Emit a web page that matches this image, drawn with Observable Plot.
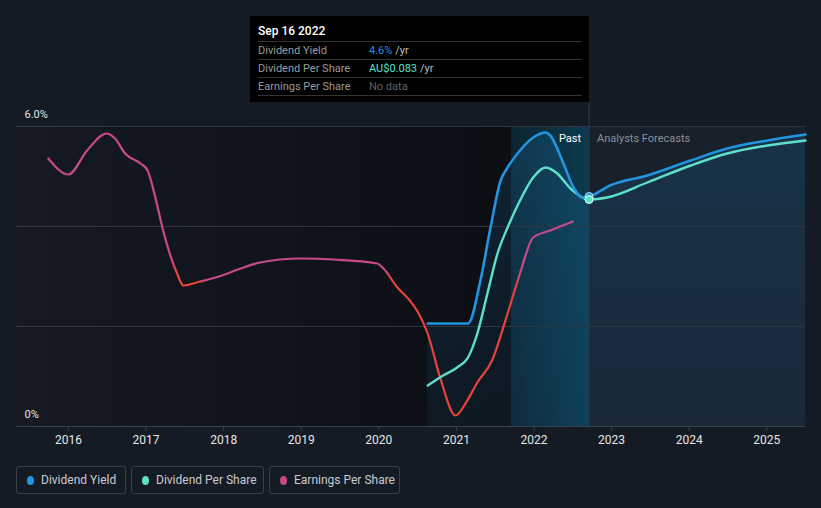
<!DOCTYPE html>
<html>
<head>
<meta charset="utf-8">
<script src="https://cdn.jsdelivr.net/npm/d3@7"></script>
<script src="https://cdn.jsdelivr.net/npm/@observablehq/plot@0.6"></script>
<style>
  html, body { margin: 0; padding: 0; background: #151b24; }
  body { font-family: Roboto, "Noto Sans", sans-serif; }
  #wrap { position: relative; width: 821px; height: 508px; background: #151b24; overflow: hidden; }
  #chart { position: absolute; left: 0; top: 0; }
  #tip { position: absolute; left: 250px; top: 16px; width: 339px; height: 86px; background: #000; box-sizing: border-box; padding: 0 7px 0 8px; }
  #tip .date { height: 25px; line-height: 31px; color: #fff; font-size: 12px; font-weight: 500; border-bottom: 1px solid #333; }
  #tip .row { height: 17px; line-height: 17px; font-size: 11px; border-bottom: 1px solid #333; display: flex; }
  #tip .lab { width: 111px; color: #9a9a9a; }
  #tip .u { color: #bdbdbd; margin-left: 3px; }
  #legend { position: absolute; left: 16px; top: 466px; display: flex; gap: 5px; }
  #legend .item { box-sizing: border-box; height: 28px; border: 1px solid #3a3f48; border-radius: 3px; display: flex; align-items: center; padding-left: 10px; font-size: 12px; color: #c9cbd0; }
  #legend .dot { width: 7px; height: 9px; border-radius: 50%; margin-right: 7px; }
</style>
</head>
<body>
<div id="wrap">
  <div id="chart"></div>
  <div id="tip"></div>
  <div id="legend"></div>
</div>
<script>
// ---------- data ----------
const tickYears = [2016, 2017, 2018, 2019, 2020, 2021, 2022, 2023, 2024, 2025];
const xDomain = [2015.33, 2025.5];
const yDomain = [0, 6];

const epsX = [2015.74, 2016.0, 2016.24, 2016.49, 2016.6, 2016.73, 2016.93, 2017.02, 2017.12, 2017.22, 2017.4, 2017.48, 2017.7, 2017.98, 2018.22, 2018.47, 2018.99, 2019.42, 2019.98, 2020.06, 2020.24, 2020.4, 2020.5, 2020.63, 2020.79, 2020.99, 2021.14, 2021.27, 2021.46, 2021.66, 2021.82, 2021.99, 2022.21, 2022.5];
const epsY = [5.36, 5.04, 5.52, 5.86, 5.76, 5.46, 5.26, 5.12, 4.58, 3.92, 3.06, 2.82, 2.9, 3.02, 3.16, 3.28, 3.36, 3.34, 3.26, 3.16, 2.78, 2.52, 2.3, 1.86, 0.98, 0.22, 0.52, 0.88, 1.32, 2.26, 3.06, 3.78, 3.92, 4.1];
const epsRedRanges = [[2017.36, 2017.72], [2020.12, 2021.8]];

const yieldX = [2020.63, 2021.15, 2021.31, 2021.44, 2021.57, 2021.66, 2021.82, 2021.99, 2022.15, 2022.21, 2022.38, 2022.51, 2022.62, 2022.71, 2022.98, 2023.46, 2024.02, 2024.49, 2025.01, 2025.5];
const yieldY = [2.06, 2.06, 2.92, 3.98, 4.92, 5.18, 5.52, 5.78, 5.88, 5.82, 5.26, 4.78, 4.58, 4.6, 4.82, 5.02, 5.32, 5.56, 5.72, 5.84];

const dpsX = [2020.63, 2020.83, 2021.01, 2021.15, 2021.27, 2021.4, 2021.53, 2021.66, 2021.82, 2021.99, 2022.15, 2022.3, 2022.47, 2022.71, 2022.94, 2023.46, 2024.02, 2024.49, 2025.01, 2025.5];
const dpsY = [0.82, 1.02, 1.18, 1.38, 1.86, 2.66, 3.46, 3.98, 4.52, 4.98, 5.18, 5.06, 4.76, 4.54, 4.58, 4.88, 5.22, 5.46, 5.62, 5.72];

const today = 2022.71;
const pastStart = 2021.71;
const gridValues = [2, 4, 6];
const yLabels = [{v: 6, t: "6.0%"}, {v: 0, t: "0%"}];

const seriesNames = ["Dividend Yield", "Dividend Per Share", "Earnings Per Share"];
const seriesColors = ["#2394df", "#5de1cb", "#c7498a"];
const epsRed = "#e8433a";

const tipDate = "Sep 16 2022";
const tipValues = [["4.6%", "/yr"], ["AU$0.083", "/yr"], ["No data", ""]];

// ---------- build ----------
const zip = (xs, ys) => xs.map((x, i) => ({x, y: ys[i]}));
const eps = zip(epsX, epsY);
const yld = zip(yieldX, yieldY);
const dps = zip(dpsX, dpsY);

const curve = "monotone-x";
const plot = Plot.plot({
  width: 821,
  height: 450,
  marginLeft: 16,
  marginRight: 16,
  marginTop: 126,
  marginBottom: 24,
  style: {background: "transparent", fontFamily: "Roboto, sans-serif", fontSize: "12px", color: "#e6e6e6", overflow: "visible"},
  x: {domain: xDomain},
  y: {domain: yDomain, axis: null},
  marks: [
    Plot.rect([{a: xDomain[0], b: pastStart}], {x1: "a", x2: "b", y1: () => 0, y2: () => 6, fill: "url(#leftShade)"}),
    Plot.rect([{a: today, b: xDomain[1]}], {x1: "a", x2: "b", y1: () => 0, y2: () => 6, fill: "#17202b"}),
    Plot.rect([{a: pastStart, b: today}], {x1: "a", x2: "b", y1: () => 0, y2: () => 6, fill: "url(#pastShade)"}),
    Plot.areaY(yld, {x: "x", y: "y", curve, fill: "url(#yieldFill)"}),
    Plot.ruleY(gridValues, {stroke: "#30363f", strokeWidth: 1}),
    Plot.ruleY([0], {stroke: "#3a404a"}),
    Plot.ruleX([today], {y1: () => 0, y2: () => 6.5, stroke: "#1d4456", strokeWidth: 1}),
    Plot.axisX({ticks: tickYears, tickFormat: d => String(d), tickSize: 5, tickPadding: 4, stroke: "#3a404a", fill: "#e6e6e6", label: null, fontSize: 12}),
    Plot.line(eps, {x: "x", y: "y", curve, stroke: "url(#epsStroke)", strokeWidth: 2.2}),
    Plot.line(dps, {x: "x", y: "y", curve, stroke: seriesColors[1], strokeWidth: 2.4}),
    Plot.line(yld, {x: "x", y: "y", curve, stroke: seriesColors[0], strokeWidth: 2.6}),
    Plot.dot(yld.filter(d => d.x === today), {x: "x", y: "y", r: 4, fill: seriesColors[0], stroke: "#bfe3f3", strokeWidth: 1}),
    Plot.dot(dps.filter(d => d.x === today), {x: "x", y: "y", r: 4, fill: seriesColors[1], stroke: "#e6fff9", strokeWidth: 1}),
    Plot.text(yLabels, {x: () => xDomain[0], y: "v", text: "t", textAnchor: "start", dx: 8, dy: -12, fill: "#e6e6e6", fontSize: 11}),
    Plot.text(["Past"], {x: () => today, y: () => 5.76, text: d => d, textAnchor: "end", dx: -8, fill: "#ffffff", fontSize: 11}),
    Plot.text(["Analysts Forecasts"], {x: () => today, y: () => 5.76, text: d => d, textAnchor: "start", dx: 8, fill: "#8b9099", fontSize: 11})
  ]
});

// gradients
const xs = plot.scale("x");
const X = v => xs.apply(v);
const svg = d3.select(plot);
const defs = svg.insert("defs", ":first-child");

const left = defs.append("linearGradient").attr("id", "leftShade").attr("x1", 0).attr("x2", 1).attr("y1", 0).attr("y2", 0);
left.append("stop").attr("offset", "0%").attr("stop-color", "#151a23");
left.append("stop").attr("offset", "100%").attr("stop-color", "#0b0e13");

const past = defs.append("linearGradient").attr("id", "pastShade").attr("x1", 0).attr("x2", 1).attr("y1", 0).attr("y2", 0);
past.append("stop").attr("offset", "0%").attr("stop-color", "#0d2431");
past.append("stop").attr("offset", "100%").attr("stop-color", "#0c3a4f");

const yf = defs.append("linearGradient").attr("id", "yieldFill").attr("x1", 0).attr("x2", 0).attr("y1", 0).attr("y2", 1);
yf.append("stop").attr("offset", "0%").attr("stop-color", "#2394df").attr("stop-opacity", 0.16);
yf.append("stop").attr("offset", "100%").attr("stop-color", "#2394df").attr("stop-opacity", 0.07);

const x0 = X(xDomain[0]), x1 = X(xDomain[1]);
const eg = defs.append("linearGradient").attr("id", "epsStroke").attr("gradientUnits", "userSpaceOnUse")
  .attr("x1", x0).attr("x2", x1).attr("y1", 0).attr("y2", 0);
const frac = v => ((X(v) - x0) / (x1 - x0) * 100).toFixed(2) + "%";
eg.append("stop").attr("offset", "0%").attr("stop-color", seriesColors[2]);
for (const [a, b] of epsRedRanges) {
  eg.append("stop").attr("offset", frac(a - 0.06)).attr("stop-color", seriesColors[2]);
  eg.append("stop").attr("offset", frac(a + 0.06)).attr("stop-color", epsRed);
  eg.append("stop").attr("offset", frac(b - 0.06)).attr("stop-color", epsRed);
  eg.append("stop").attr("offset", frac(b + 0.06)).attr("stop-color", seriesColors[2]);
}
eg.append("stop").attr("offset", "100%").attr("stop-color", seriesColors[2]);

document.getElementById("chart").appendChild(plot);

// tooltip
const tip = document.getElementById("tip");
const valColors = [seriesColors[0], seriesColors[1], "#5f6166"];
let html = `<div class="date">${tipDate}</div>`;
seriesNames.forEach((n, i) => {
  html += `<div class="row"><span class="lab">${n}</span><span style="color:${valColors[i]}">${tipValues[i][0]}</span><span class="u">${tipValues[i][1]}</span></div>`;
});
tip.innerHTML = html;

// legend
const legendWidths = [110, 133, 131];
const legend = document.getElementById("legend");
seriesNames.forEach((n, i) => {
  const d = document.createElement("div");
  d.className = "item";
  d.style.width = legendWidths[i] + "px";
  d.innerHTML = `<span class="dot" style="background:${seriesColors[i]}"></span><span>${n}</span>`;
  legend.appendChild(d);
});
</script>
</body>
</html>
